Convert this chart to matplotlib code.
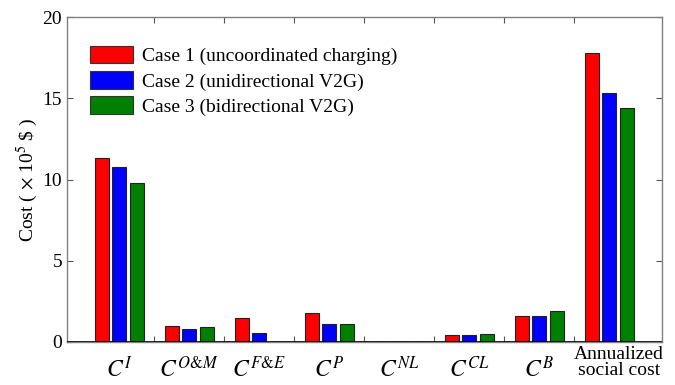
import matplotlib
matplotlib.use("Agg")
import matplotlib.pyplot as plt
import matplotlib.transforms as mtransforms
from matplotlib.patches import Patch
import numpy as np

plt.rcParams['font.family'] = 'serif'
plt.rcParams['font.serif'] = ['Liberation Serif', 'DejaVu Serif']
plt.rcParams['mathtext.fontset'] = 'stix'

categories = [r'$C^{I}$', r'$C^{O&M}$', r'$C^{F&E}$', r'$C^{P}$',
              r'$C^{NL}$', r'$C^{CL}$', r'$C^{B}$', 'Annualized\nsocial cost']
case1 = [11.32, 0.96, 1.48, 1.78, 0.0, 0.43, 1.62, 17.76]
case2 = [10.75, 0.78, 0.55, 1.09, 0.0, 0.43, 1.62, 15.34]
case3 = [9.80, 0.90, 0.0, 1.13, 0.0, 0.47, 1.91, 14.38]
series_names = ['Case 1 (uncoordinated charging)', 'Case 2 (unidirectional V2G)',
                'Case 3 (bidirectional V2G)']
colors = ['#ff0000', '#0000ff', '#008000']
yticks = [0, 5, 10, 15, 20]

fig = plt.figure(figsize=(6.75, 3.85), dpi=100)
ax = fig.add_axes([67/675, 1 - 342/385, (662-67)/675, (342-17)/385])

x = np.arange(1, len(categories) + 1)
w = 0.2
off = 0.25
for i, (vals, c) in enumerate(zip([case1, case2, case3], colors)):
    ax.bar(x + (i - 1) * off, vals, width=w, color=c, edgecolor='#222222',
           linewidth=0.8, zorder=3)

ax.axhline(0, color='black', linewidth=1.2, zorder=4)
ax.set_xlim(0.257, 8.757)
ax.set_ylim(0, 20)
ax.set_yticks(yticks)
ax.set_yticklabels([str(t) for t in yticks], fontsize=14)

ax.set_xticks(np.arange(1.5, 8.5, 1.0))
ax.set_xticklabels([])
ax.tick_params(axis='x', which='major', direction='in', top=True, length=4,
               color='#555555')
ax.tick_params(axis='y', direction='in', right=True, length=4, color='#555555')

trans = mtransforms.blended_transform_factory(ax.transData, ax.transAxes)
for xi, lab in zip(x, categories):
    if lab.startswith('$'):
        ax.text(xi, -0.045, lab, transform=trans, ha='center', va='top',
                fontsize=17)
    else:
        ax.text(xi + 0.14, -0.012, lab, transform=trans, ha='center', va='top',
                fontsize=14, linespacing=0.95)

for s in ax.spines.values():
    s.set_color('#808080')
    s.set_linewidth(1.0)

ax.set_ylabel(r'Cost ( $\times$ 10$^5$ \$ )', fontsize=14, labelpad=2)

handles = [Patch(facecolor=c, edgecolor='#333333', linewidth=0.8) for c in colors]
leg = ax.legend(handles, series_names, loc='upper left', frameon=False,
                fontsize=14, handlelength=2.2, handleheight=1.0,
                handletextpad=0.45, labelspacing=0.3,
                bbox_to_anchor=(0.01, 0.965))

fig.savefig('out.png', dpi=100)
